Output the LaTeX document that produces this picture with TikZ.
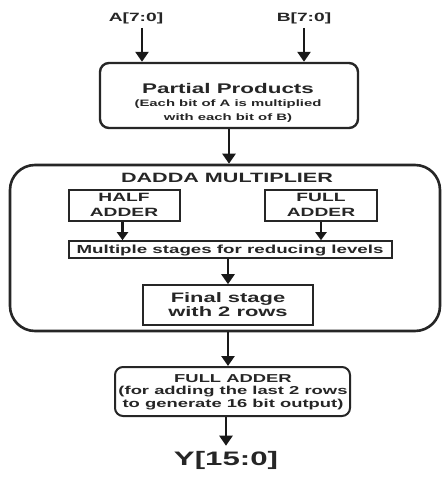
\documentclass[tikz,border=0pt]{standalone}
\usepackage{fontspec}
\setmainfont{Liberation Sans}[FakeStretch=1.6]
\usetikzlibrary{arrows.meta}
\begin{document}
\begin{tikzpicture}[x=1pt,y=-1pt,
  arr/.style={line width=2.8pt,draw=black!90,-{Triangle[width=13pt,length=10pt]}},
  sarr/.style={line width=2.2pt,draw=black!90,-{Triangle[width=11pt,length=8pt]}},
  box/.style={draw=black!85,rectangle,inner sep=0pt},
  txt/.style={text=black!85,align=center,inner sep=0pt},
]
\useasboundingbox (0,0) rectangle (444,479);
\fill[white] (0,0) rectangle (444,479);

% inputs
\node[txt,font=\fontsize{12}{14}\selectfont\bfseries] (a) at (136,18) {A[7:0]};
\node[txt,font=\fontsize{12}{14}\selectfont\bfseries] (b) at (304,18) {B[7:0]};

% partial products
\node[box,line width=2.4pt,rounded corners=9pt,minimum width=258pt,minimum height=65pt] (pp) at (229,95.5) {};
\node[txt,font=\fontsize{14}{15}\selectfont\bfseries] (ppt) at (228,88) {Partial Products};
\node[txt,font=\fontsize{9.3}{14.5}\selectfont\bfseries] (pps) at (228,111) {(Each bit of A is multiplied\\with each bit of B)};

% dadda multiplier
\node[box,line width=2.6pt,rounded corners=25pt,minimum width=430pt,minimum height=166pt] (dm) at (225,248) {};
\node[txt,font=\fontsize{13.5}{15}\selectfont\bfseries] (dmt) at (227,178) {DADDA MULTIPLIER};

\node[box,line width=1.6pt,minimum width=111pt,minimum height=31pt] (ha) at (124.5,205.5) {};
\node[txt,font=\fontsize{12}{15}\selectfont\bfseries] (hat) at (124,205) {HALF\\ADDER};

\node[box,line width=1.6pt,minimum width=112pt,minimum height=31pt] (fa1) at (321,205.5) {};
\node[txt,font=\fontsize{12}{15}\selectfont\bfseries] (fa1t) at (321,205) {FULL\\ADDER};

\node[box,line width=1.6pt,minimum width=323pt,minimum height=17pt] (ms) at (230.5,249.5) {};
\node[txt,font=\fontsize{11.7}{14}\selectfont\bfseries] (mst) at (230,250) {Multiple stages for reducing levels};

\node[box,line width=1.6pt,minimum width=170pt,minimum height=40pt] (fs) at (228,305) {};
\node[txt,font=\fontsize{13.7}{14}\selectfont\bfseries] (fst) at (228,305) {Final stage\\with 2 rows};

% final full adder
\node[box,line width=2pt,rounded corners=8pt,minimum width=235pt,minimum height=49pt] (fa) at (232.5,391.5) {};
\node[txt,font=\fontsize{11.5}{12.5}\selectfont\bfseries] (fat) at (233,392) {FULL ADDER\\(for adding the last 2 rows\\to generate 16 bit output)};

% output
\node[txt,font=\fontsize{19.5}{20}\selectfont\bfseries] (y) at (226,460) {Y[15:0]};

% connectors
\draw[arr] ([xshift=6pt,yshift=-4pt]a.south) -- ([xshift=6pt]a.south |- pp.north);
\draw[arr] ([yshift=-4pt]b.south) -- (b.south |- pp.north);
\draw[arr] (pp.south) -- (pp.south |- dm.north);
\draw[sarr] ([xshift=-2pt]ha.south) -- ([xshift=-2pt]ha.south |- ms.north);
\draw[sarr] (fa1.south) -- (fa1.south |- ms.north);
\draw[arr] (fs.north |- ms.south) -- (fs.north);
\draw[arr] (fs.south |- dm.south) -- (fs.south |- fa.north);
\draw[arr] (y.north |- fa.south) -- ([yshift=5pt]y.north);
\end{tikzpicture}
\end{document}
